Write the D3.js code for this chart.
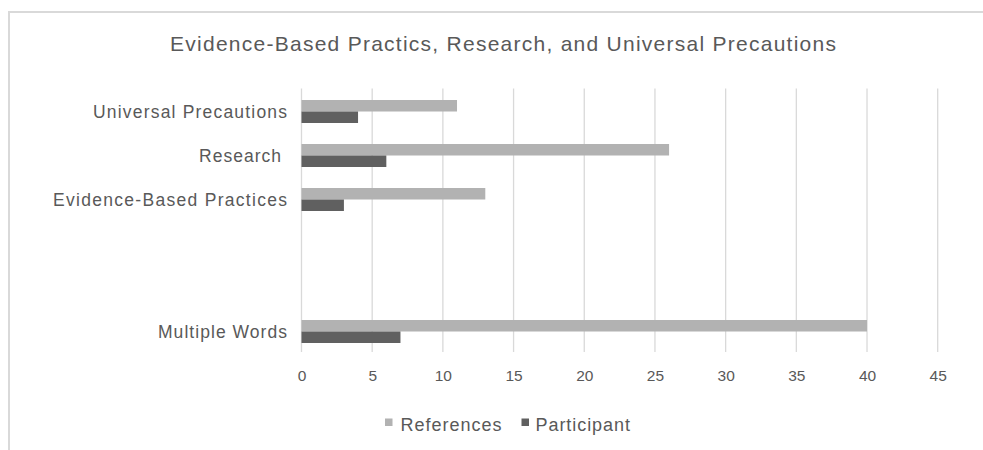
<!DOCTYPE html>
<html>
<head>
<meta charset="utf-8">
<script src="https://cdn.jsdelivr.net/npm/d3@7"></script>
<style>
  html, body { margin: 0; padding: 0; background: #fff; }
  svg { display: block; }
  text { font-family: "Liberation Sans", Arial, Helvetica, sans-serif; fill: #595959; }
</style>
</head>
<body>
<svg id="chart" width="983" height="450"></svg>
<script>
// ---- data ----
const title = "Evidence-Based Practics, Research, and Universal Precautions";
const categories = ["Universal Precautions", "Research ", "Evidence-Based Practices", "", "", "Multiple Words"];
const seriesNames = ["References", "Participant"];
const references = [11, 26, 13, null, null, 40];
const participant = [4, 6, 3, null, null, 7];
const xTicks = [0, 5, 10, 15, 20, 25, 30, 35, 40, 45];
const seriesColors = ["#b2b2b2", "#606060"];

// ---- layout ----
const svg = d3.select("#chart");
const W = 983, H = 450;

svg.append("rect").attr("x", 0).attr("y", 0).attr("width", W).attr("height", H).attr("fill", "#fff");
// chart area border (extends past right/bottom edges)
svg.append("rect")
  .attr("x", 9).attr("y", 12).attr("width", W + 20).attr("height", H + 20)
  .attr("fill", "none").attr("stroke", "#d9d9d9").attr("stroke-width", 2);

const x = d3.scaleLinear().domain([0, 45]).range([301.5, 937.7]);
const y = d3.scaleBand().domain(d3.range(categories.length)).range([89.5, 353.5]).padding(0);
const inner = d3.scaleBand().domain(seriesNames).range([0, y.bandwidth()]).paddingInner(0).paddingOuter(0.913);

// gridlines
svg.append("g").selectAll("line").data(xTicks).join("line")
  .attr("x1", d => x(d)).attr("x2", d => x(d))
  .attr("y1", 88.5).attr("y2", 352)
  .attr("stroke", "#d9d9d9").attr("stroke-width", 1.3);

// x tick labels via axis
const xAxis = d3.axisBottom(x).tickValues(xTicks).tickSize(0).tickPadding(0).tickFormat(d3.format("d"));
const gx = svg.append("g").attr("transform", "translate(0,370)").call(xAxis);
gx.select(".domain").remove();
gx.selectAll("text").attr("font-size", 15.5).attr("fill", "#595959")
  .attr("font-family", "Liberation Sans, Arial, sans-serif");

// bars
const seriesData = [references, participant];
seriesData.forEach((vals, si) => {
  svg.append("g").selectAll("rect")
    .data(vals.map((v, i) => ({ v, i })).filter(d => d.v != null))
    .join("rect")
    .attr("x", x(0))
    .attr("y", d => y(d.i) + inner(seriesNames[si]))
    .attr("width", d => x(d.v) - x(0))
    .attr("height", inner.bandwidth())
    .attr("fill", seriesColors[si]);
});

// category labels
const labelWidths = { "Universal Precautions": 194, "Research ": 88, "Evidence-Based Practices": 234, "Multiple Words": 129 };
svg.append("g").selectAll("text").data(categories.map((c, i) => ({ c, i })).filter(d => d.c !== ""))
  .join("text")
  .attr("x", 287)
  .attr("y", d => y(d.i) + y.bandwidth() / 2 + 6.5)
  .attr("text-anchor", "end")
  .attr("font-size", 17.5)
  .attr("textLength", d => labelWidths[d.c])
  .attr("lengthAdjust", "spacing")
  .style("white-space", "pre")
  .text(d => d.c);

// title
svg.append("text")
  .attr("x", 170).attr("y", 51)
  .attr("font-size", 21)
  .attr("textLength", 666)
  .attr("lengthAdjust", "spacing")
  .text(title);

// legend
const legendItems = [
  { name: seriesNames[0], color: seriesColors[0], sx: 385, tx: 400.5, w: 101 },
  { name: seriesNames[1], color: seriesColors[1], sx: 521.5, tx: 535.5, w: 94.5 }
];
const lg = svg.append("g");
legendItems.forEach(it => {
  lg.append("rect").attr("x", it.sx).attr("y", 418.5).attr("width", 7.5).attr("height", 7.5).attr("fill", it.color);
  lg.append("text").attr("x", it.tx).attr("y", 431).attr("font-size", 18)
    .attr("textLength", it.w).attr("lengthAdjust", "spacing").text(it.name);
});
</script>
</body>
</html>
